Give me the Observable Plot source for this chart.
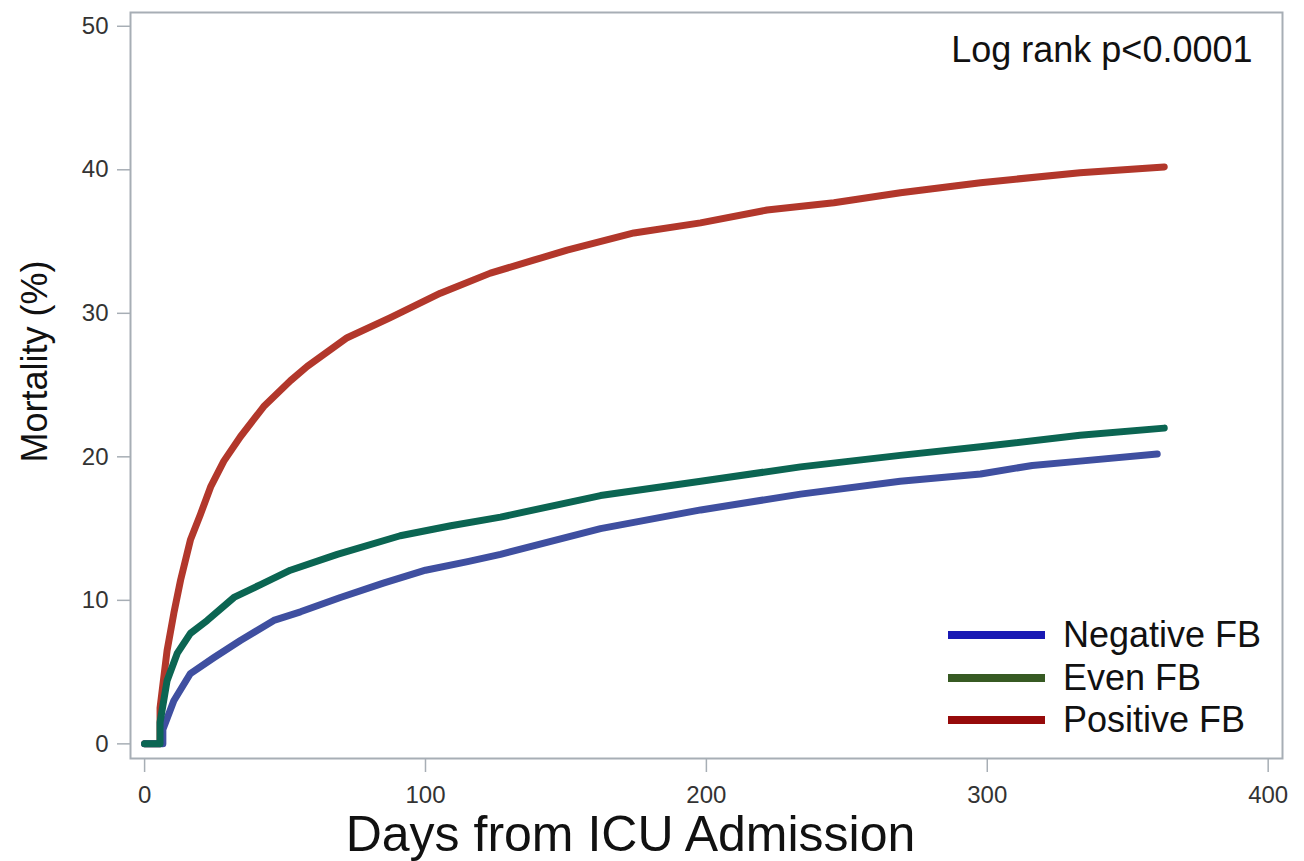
<!DOCTYPE html>
<html>
<head>
<meta charset="utf-8">
<script src="https://cdn.jsdelivr.net/npm/d3@7"></script>
<script src="https://cdn.jsdelivr.net/npm/@observablehq/plot@0.6"></script>
<style>
  html, body { margin: 0; padding: 0; background: #fff; }
  #wrap { position: relative; width: 1304px; height: 861px; font-family: "Liberation Sans", Arial, sans-serif; }
  #legend { position: absolute; left: 948px; top: 614px; }
  .row { display: flex; align-items: center; height: 42.5px; }
  .sw { width: 97px; height: 8px; }
  .lb { margin-left: 18px; font-size: 36px; color: #111; white-space: nowrap; }
</style>
</head>
<body>
<div id="wrap"></div>
<script>
// ---- data ----
const seriesNames = ["Negative FB", "Even FB", "Positive FB"];
const lineColors = ["#3f4fa0", "#0b6552", "#b2372b"];
const legendColors = ["#1919b4", "#375a23", "#960a0a"];

const posDays = [0, 5.5, 5.5, 8, 10.4, 12.8, 16.3, 19.9, 23.5, 28.2, 34.1, 42.4, 51.9, 57.9, 72.1, 87.5, 105.3, 123.1, 138.5, 150.4, 174.2, 197.9, 221.6, 245.4, 269.1, 297.6, 333, 363];
const posMort = [0, 0, 2.5, 6.5, 9.1, 11.4, 14.2, 16.0, 17.9, 19.7, 21.4, 23.5, 25.3, 26.3, 28.3, 29.7, 31.4, 32.8, 33.7, 34.4, 35.6, 36.3, 37.2, 37.7, 38.4, 39.1, 39.8, 40.2];

const evenDays = [0, 5.5, 5.5, 8, 11.6, 16.3, 22.3, 31.8, 41.3, 51.9, 68.6, 91, 109, 126.7, 162.3, 198, 233.5, 269, 297.6, 333, 363];
const evenMort = [0, 0, 1.5, 4.4, 6.3, 7.7, 8.6, 10.2, 11.1, 12.1, 13.2, 14.5, 15.2, 15.8, 17.3, 18.3, 19.3, 20.1, 20.7, 21.5, 22.0];

const negDays = [0, 6.5, 6.5, 10.4, 16.3, 24.6, 34.1, 46, 55.5, 69.7, 85, 100, 115, 126.7, 162.3, 198, 233.5, 269, 297.6, 316, 333, 360.5];
const negMort = [0, 0, 1.0, 3.0, 4.9, 6.0, 7.2, 8.6, 9.2, 10.2, 11.2, 12.1, 12.7, 13.2, 15.0, 16.3, 17.4, 18.3, 18.8, 19.4, 19.7, 20.2];

const xTicks = [0, 100, 200, 300, 400];
const yTicks = [0, 10, 20, 30, 40, 50];
const xLabel = "Days from ICU Admission";
const yLabel = "Mortality (%)";
const annotation = "Log rank p<0.0001";

const toRows = (days, vals, name) => days.map((d, i) => ({day: d, mort: vals[i], group: name}));
const negRows = toRows(negDays, negMort, seriesNames[0]);
const evenRows = toRows(evenDays, evenMort, seriesNames[1]);
const posRows = toRows(posDays, posMort, seriesNames[2]);

const gray = "#a7aeb5";

const chart = Plot.plot({
  width: 1304,
  height: 861,
  marginLeft: 130,
  marginRight: 22,
  marginTop: 12,
  marginBottom: 103,
  style: {fontFamily: "Liberation Sans, Arial, sans-serif", fontSize: "24px", color: "#333", background: "#fff"},
  x: {domain: [-5.02, 405.1]},
  y: {domain: [-1.02, 50.96]},
  marks: [
    Plot.frame({stroke: gray, strokeWidth: 2}),
    Plot.axisY({ticks: yTicks, tickSize: 13, tickPadding: 9, stroke: gray, strokeWidth: 1.5, label: null, fontSize: 24}),
    Plot.axisX({ticks: xTicks, tickSize: 14, tickPadding: 13, stroke: gray, strokeWidth: 1.5, label: null, fontSize: 24}),
    Plot.line(posRows, {x: "day", y: "mort", stroke: lineColors[2], strokeWidth: 7, strokeLinejoin: "round"}),
    Plot.line(negRows, {x: "day", y: "mort", stroke: lineColors[0], strokeWidth: 7, strokeLinejoin: "round"}),
    Plot.line(evenRows, {x: "day", y: "mort", stroke: lineColors[1], strokeWidth: 7, strokeLinejoin: "round"}),
    Plot.text([annotation], {frameAnchor: "top-right", dx: -30, dy: 38, textAnchor: "end", lineAnchor: "middle", fontSize: 36, fill: "#111"}),
    Plot.text([yLabel], {frameAnchor: "left", dx: -95, dy: -24, rotate: -90, textAnchor: "middle", lineAnchor: "middle", fontSize: 36, fill: "#111"}),
    Plot.text([xLabel], {frameAnchor: "bottom", dx: -76, dy: 76, textAnchor: "middle", lineAnchor: "middle", fontSize: 50, fill: "#111"})
  ]
});

const wrap = document.getElementById("wrap");
wrap.appendChild(chart);

const legend = document.createElement("div");
legend.id = "legend";
seriesNames.forEach((name, i) => {
  const row = document.createElement("div");
  row.className = "row";
  const sw = document.createElement("div");
  sw.className = "sw";
  sw.style.background = legendColors[i];
  const lb = document.createElement("div");
  lb.className = "lb";
  lb.textContent = name;
  row.appendChild(sw);
  row.appendChild(lb);
  legend.appendChild(row);
});
wrap.appendChild(legend);
</script>
</body>
</html>
